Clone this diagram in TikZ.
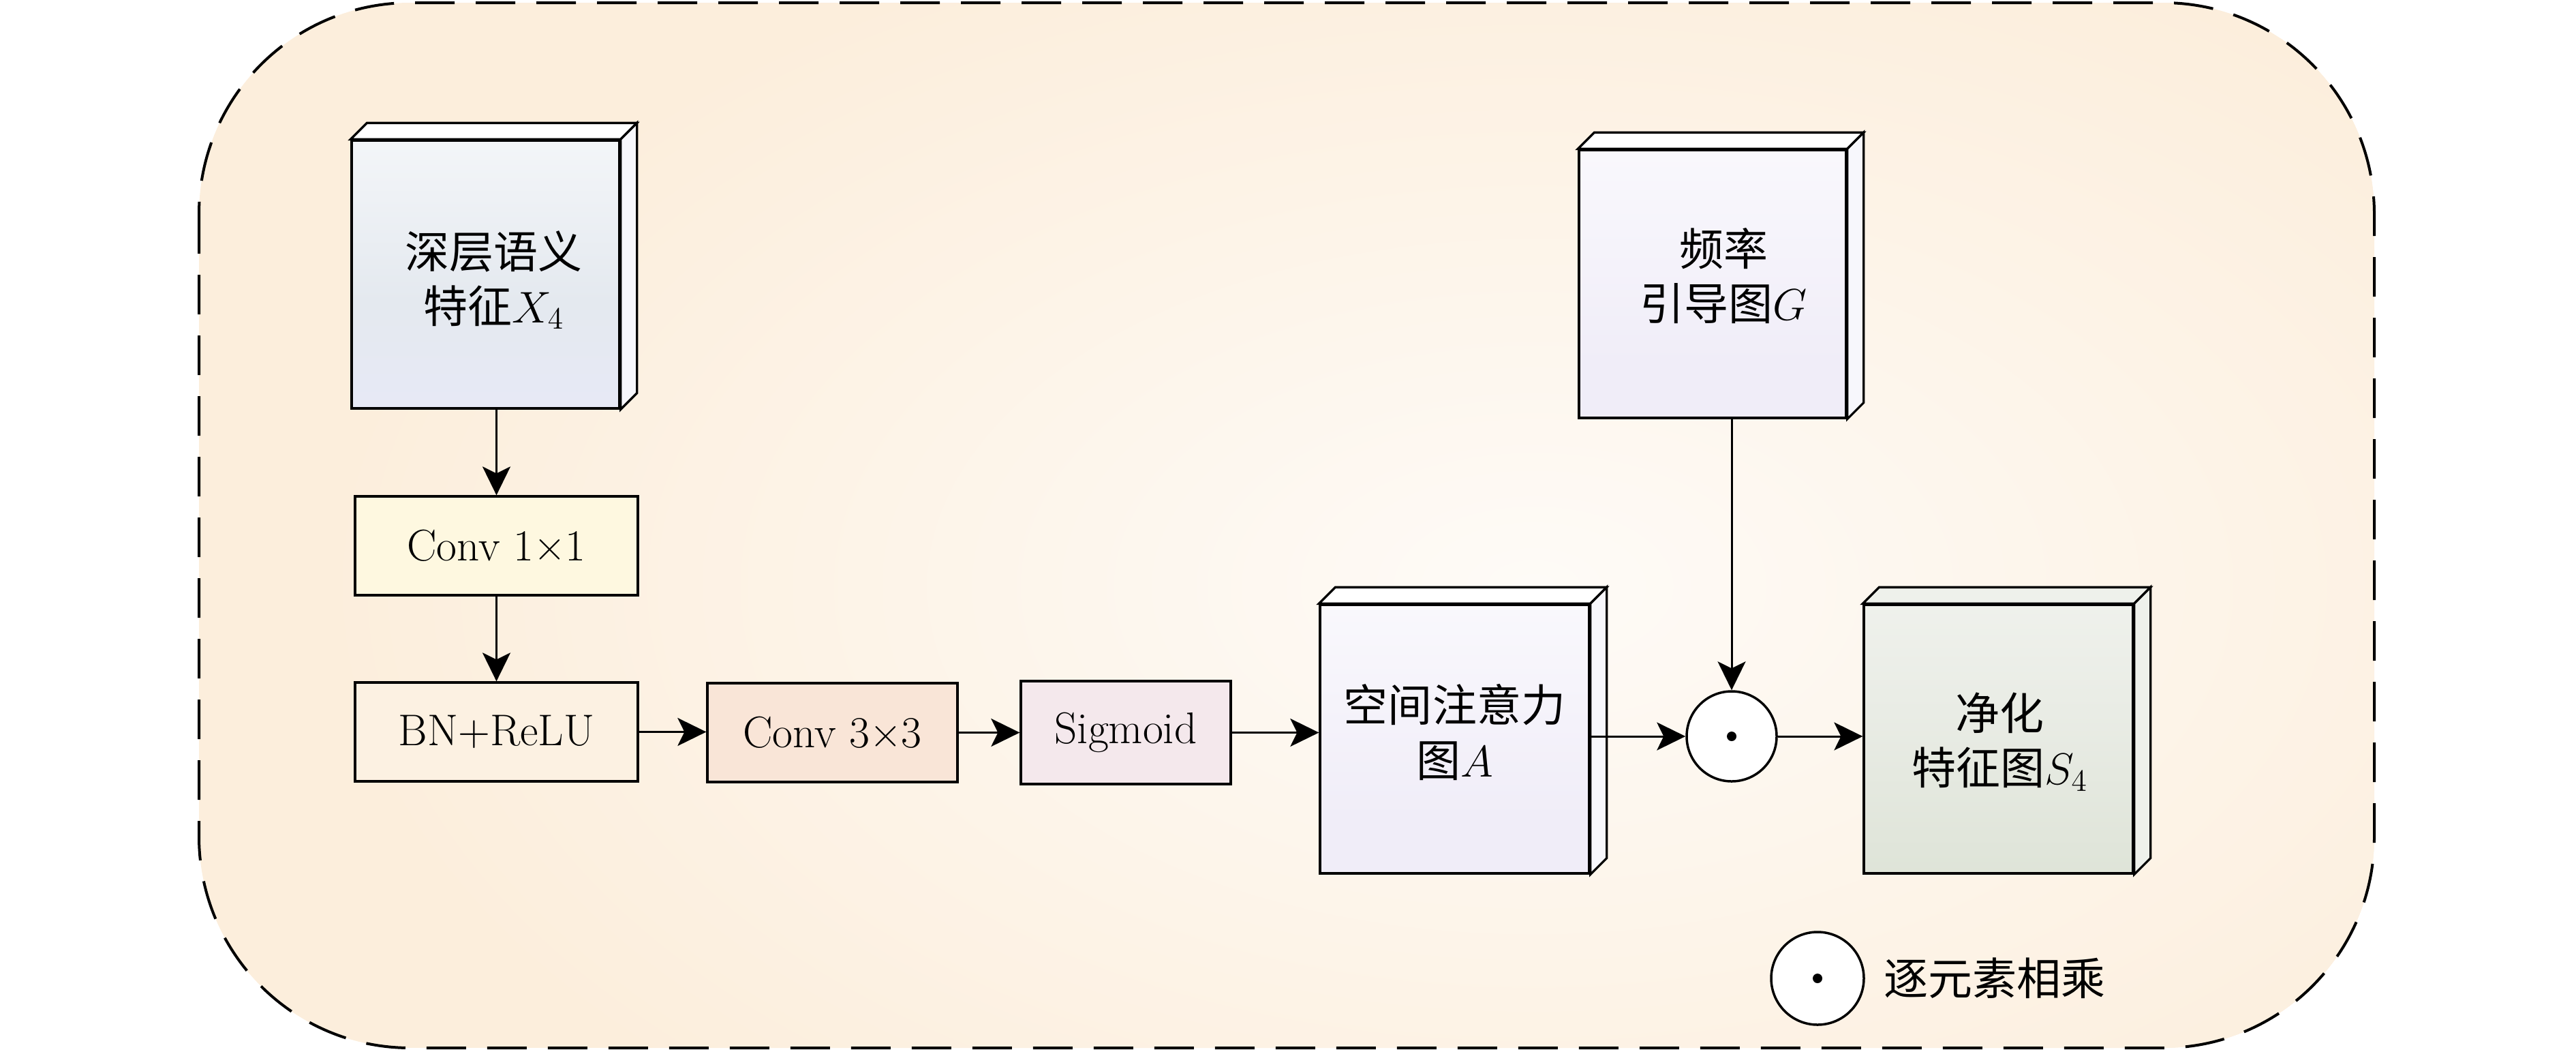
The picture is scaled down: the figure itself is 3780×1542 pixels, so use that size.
\RequirePackage{fix-cm}
\documentclass[tikz,border=0pt]{standalone}
\usepackage{fontspec}
\newfontfamily\cjk{Noto Sans CJK SC}
\usetikzlibrary{calc,arrows.meta}

\definecolor{bgin}{HTML}{FEFBF7}
\definecolor{bgout}{HTML}{FCEEDC}
\definecolor{convone}{HTML}{FEF8E0}
\definecolor{bnfill}{HTML}{FCF1E2}
\definecolor{convthree}{HTML}{F9E5D7}
\definecolor{sigfill}{HTML}{F4E8EC}
% box X4
\definecolor{xtop}{HTML}{FEFEFF}
\definecolor{xmid}{HTML}{E4E9EF}
\definecolor{xlow}{HTML}{E8E9F8}
\definecolor{xbot}{HTML}{F8F8FC}
% box G / A
\definecolor{gtop}{HTML}{FFFFFF}
\definecolor{glow}{HTML}{F0EDF8}
\definecolor{gbot}{HTML}{F7F6FB}
% box S4
\definecolor{stop}{HTML}{F6F7F4}
\definecolor{smid}{HTML}{E9ECE5}
\definecolor{slow}{HTML}{DCE2D5}
\definecolor{sbot}{HTML}{F1F2EE}
\definecolor{sside}{HTML}{EEF1EB}
\definecolor{sidelav}{HTML}{F7F7FC}

\pgfdeclareverticalshading{xshade}{100bp}{color(0bp)=(xbot); color(4bp)=(xbot); color(18bp)=(xlow); color(45bp)=(xmid); color(96bp)=(xtop); color(100bp)=(xtop)}
\pgfdeclareverticalshading{gshade}{100bp}{color(0bp)=(gbot); color(10bp)=(glow); color(35bp)=(glow); color(100bp)=(gtop)}
\pgfdeclareverticalshading{sshade}{100bp}{color(0bp)=(sbot); color(6bp)=(sbot); color(18bp)=(slow); color(55bp)=(smid); color(100bp)=(stop)}

\newcommand\depthfaces[4]{%
  \filldraw[face, fill=#3] (#1.north west) -- ++(#2,-#2) -- ($(#1.north east)+(#2,-#2)$) -- (#1.north east) -- cycle;
  \filldraw[face, fill=#4] (#1.north east) -- ++(#2,-#2) -- ($(#1.south east)+(#2,-#2)$) -- (#1.south east) -- cycle;}

\begin{document}
\begin{tikzpicture}[x=0.1mm,y=-0.1mm,
  base/.style={font=\cjk\fontsize{18.5}{22.8}\selectfont, align=center, inner sep=0pt},
  fbox/.style={draw, line width=0.33mm, rectangle, inner sep=0pt},
  flat/.style={draw, line width=0.33mm, rectangle, inner sep=0pt, font=\fontsize{18.5}{22.8}\selectfont},
  face/.style={draw, line width=0.33mm, line join=miter},
  arr/.style={line width=0.3mm, -{Stealth[length=4.2mm,width=4.1mm,inset=1mm]}},
  dot/.style={circle, draw, line width=0.35mm, inner sep=0pt}]

\useasboundingbox (0,0) rectangle (3780,1542);

% background
\begin{scope}
  \clip[rounded corners=31mm] (292,4) rectangle (3484,1537);
  \fill[bgout] (292,4) rectangle (3484,1537);
  \shade[inner color=bgin, outer color=bgout] (2250,860) ellipse [x radius=178mm, y radius=102mm];
\end{scope}
\draw[line width=0.4mm, dash pattern=on 5.8mm off 3.1mm, rounded corners=31mm] (292,4) rectangle (3484,1537);

% 3D feature boxes
\node[fbox, shading=xshade, minimum width=39.3mm, minimum height=39.3mm] (X4) at (712.5,402.5) {};
\depthfaces{X4}{24}{white}{sidelav}
\node[base] (X4t) at ($(X4.center)+(12,8)$) {深层语义\\特征$X_4$};
\node[fbox, shading=gshade, minimum width=39.2mm, minimum height=39.3mm] (G) at (2513,416.5) {};
\depthfaces{G}{24}{white}{sidelav}
\node[base] (Gt) at ($(G.center)+(16,-12)$) {频率\\引导图$G$};
\node[fbox, shading=gshade, minimum width=39.5mm, minimum height=39.4mm] (A) at (2134.5,1084) {};
\depthfaces{A}{24}{white}{sidelav}
\node[base] (At) at ($(A.center)+(0,-10)$) {空间注意力\\图$A$};
\node[fbox, shading=sshade, minimum width=39.5mm, minimum height=39.4mm] (S) at (2932.5,1084) {};
\depthfaces{S}{24}{sside}{sside}
\node[base] (St) at ($(S.center)+(2,4)$) {净化\\特征图$S_4$};

% flat boxes
\node[flat, fill=convone, minimum width=41.5mm, minimum height=14.5mm] (c1) at (728.5,800.5) {Conv 1×1};
\node[flat, fill=bnfill, minimum width=41.5mm, minimum height=14.5mm] (bn) at (728.5,1073.5) {BN+ReLU};
\node[flat, fill=convthree, minimum width=36.7mm, minimum height=14.5mm] (c3) at (1221.5,1074.5) {Conv 3×3};
\node[flat, fill=sigfill, minimum width=30.8mm, minimum height=15.1mm] (sig) at (1652,1074.5) {Sigmoid};

% element-wise product
\node[dot, fill=white, minimum size=13.2mm] (mul) at (2541,1080) {};
\fill (mul.center) circle (0.7mm);

% connectors
\draw[arr] (c1.north |- X4.south) -- (c1.north);
\draw[arr] (c1.south) -- (bn.north);
\draw[arr] (bn.east) -- (bn.east -| c3.west);
\draw[arr] (c3.east) -- (c3.east -| sig.west);
\draw[arr] (sig.east) -- (sig.east -| A.west);
\draw[arr] (mul.west -| A.east) -- (mul.west);
\draw[arr] (mul.east) -- (mul.east -| S.west);
\draw[arr] (mul.north |- G.south) -- (mul.north);

% legend
\node[dot, fill=white, minimum size=13.6mm] (lgc) at (2667,1435) {};
\fill (lgc.center) circle (0.7mm);
\node[base, anchor=west] (lgt) at (2764,1435) {逐元素相乘};
\end{tikzpicture}
\end{document}
